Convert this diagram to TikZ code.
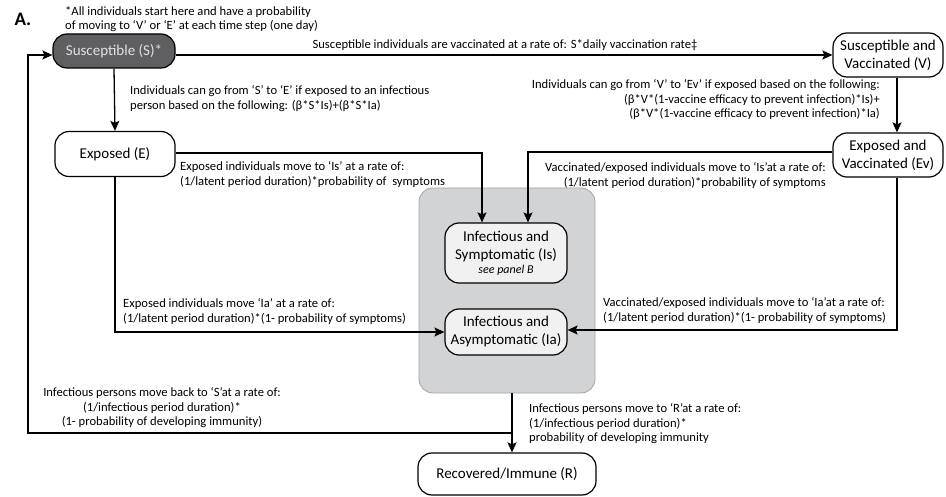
\documentclass[tikz,border=0pt]{standalone}
\usepackage{fontspec}
\setmainfont{Carlito}
\usetikzlibrary{arrows.meta}

\definecolor{sgray}{HTML}{5F5F61}
\definecolor{stext}{HTML}{E2E2E2}
\definecolor{boxgray}{HTML}{D2D3D5}
\definecolor{boxline}{HTML}{A3A3A5}
\definecolor{lightgray}{HTML}{F1F1F1}

\newcommand{\statefnt}{\fontsize{15}{18}\selectfont}
\newcommand{\notefnt}{\fontsize{12.6}{14.8}\selectfont}

\begin{document}
\begin{tikzpicture}[x=1pt,y=-1pt,
  state/.style={draw, line width=1.2pt, rounded corners=14pt, align=center, font=\statefnt, inner sep=0pt},
  flow/.style={line width=1.3pt, -{Stealth[length=10pt,width=9pt,inset=2pt]}},
  note/.style={font=\notefnt, inner sep=0pt, align=left}]

\useasboundingbox (0,0) rectangle (946,497);

\node [anchor=north west, font=\fontsize{19}{19}\selectfont\bfseries] (panel) at (11,10) {A.};
\node [note, anchor=north west] (foot) at (65,6) {*All individuals start here and have a probability\\of moving to ‘V’ or ‘E’ at each time step (one day)};

% compartments
\node [state, fill=sgray, text=stext, minimum width=122, minimum height=34] (susc) at (114,51) {Susceptible (S)*};
\node [state, minimum width=110, minimum height=44] (vacc) at (888,55) {Susceptible and\\Vaccinated (V)};
\node [state, minimum width=120, minimum height=45] (expo) at (115,154) {Exposed (E)};
\node [state, minimum width=110, minimum height=44] (expov) at (888,155) {Exposed and\\Vaccinated (Ev)};
\node [draw=boxline, fill=boxgray, line width=0.8pt, rounded corners=14pt, minimum width=176, minimum height=205] (infbox) at (507,290.5) {};
\node [state, fill=lightgray, minimum width=122, minimum height=60] (infs) at (506,253) {Infectious and\\Symptomatic (Is)\\[-4pt]{\fontsize{12}{13}\selectfont\itshape see panel B}};
\node [state, fill=lightgray, minimum width=122, minimum height=46] (infa) at (506,332) {Infectious and\\Asymptomatic (Ia)};
\node [state, minimum width=178, minimum height=42] (recov) at (507,474) {Recovered/Immune (R)};

% flows
\draw [flow] ([yshift=-4]susc.east) -- (vacc.west);
\node [note, anchor=north] (lvacc) at (505,39) {Susceptible individuals are vaccinated at a rate of: S*daily vaccination rate‡};

\draw [flow] (susc.south) -- (expo.north);
\node [note, anchor=north west] (lexpo) at (130,85) {Individuals can go from ‘S’ to ‘E’ if exposed to an infectious\\person based on the following: (β*S*Is)+(β*S*Ia)};

\draw [flow] ([xshift=9]vacc.south) -- ([xshift=9]expov.north);
\node [note, anchor=north east, align=right] (lexpov) at (880,79) {Individuals can go from ‘V’ to ‘Ev’ if exposed based on the following:\\(β*V*(1-vaccine efficacy to prevent infection)*Is)+\\(β*V*(1-vaccine efficacy to prevent infection)*Ia)};

\draw [flow] ([yshift=1]expo.east) -| ([xshift=-24]infs.north);
\node [note, anchor=north west] (lEs) at (180,161) {Exposed individuals move to ‘Is’ at a rate of:\\(1/latent period duration)*probability of \ symptoms};

\draw [flow] ([yshift=3]expov.west) -| ([xshift=22]infs.north);
\node [note, anchor=north east, align=right] (lEvs) at (826,162) {Vaccinated/exposed individuals move to ‘Is’at a rate of:\\(1/latent period duration)*probability of symptoms};

\draw [flow] (expo.south) |- (infa.west);
\node [note, anchor=north west] (lEa) at (123,298) {Exposed individuals move ‘Ia’ at a rate of:\\(1/latent period duration)*(1- probability of symptoms)};

\draw [flow] ([xshift=9]expov.south) |- ([yshift=2]infa.east);
\node [note, anchor=north west] (lEva) at (603,297) {Vaccinated/exposed individuals move to ‘Ia’at a rate of:\\(1/latent period duration)*(1- probability of symptoms)};

\draw [flow] ([xshift=5]infbox.south) -- ([xshift=5]recov.north);
\node [note, anchor=north west] (lrecov) at (529,403) {Infectious persons move to ‘R’at a rate of:\\(1/infectious period duration)*\\probability of developing immunity};

% back to S
\coordinate (back) at (512,433);
\coordinate (turn) at (28,433);
\draw [flow] (back) -- (turn) |- ([yshift=-4]susc.west);
\node [note, anchor=north, align=center] (lback) at (162,387) {Infectious persons move back to ‘S’at a rate of:\\(1/infectious period duration)*\\(1- probability of developing immunity)};

\end{tikzpicture}
\end{document}
